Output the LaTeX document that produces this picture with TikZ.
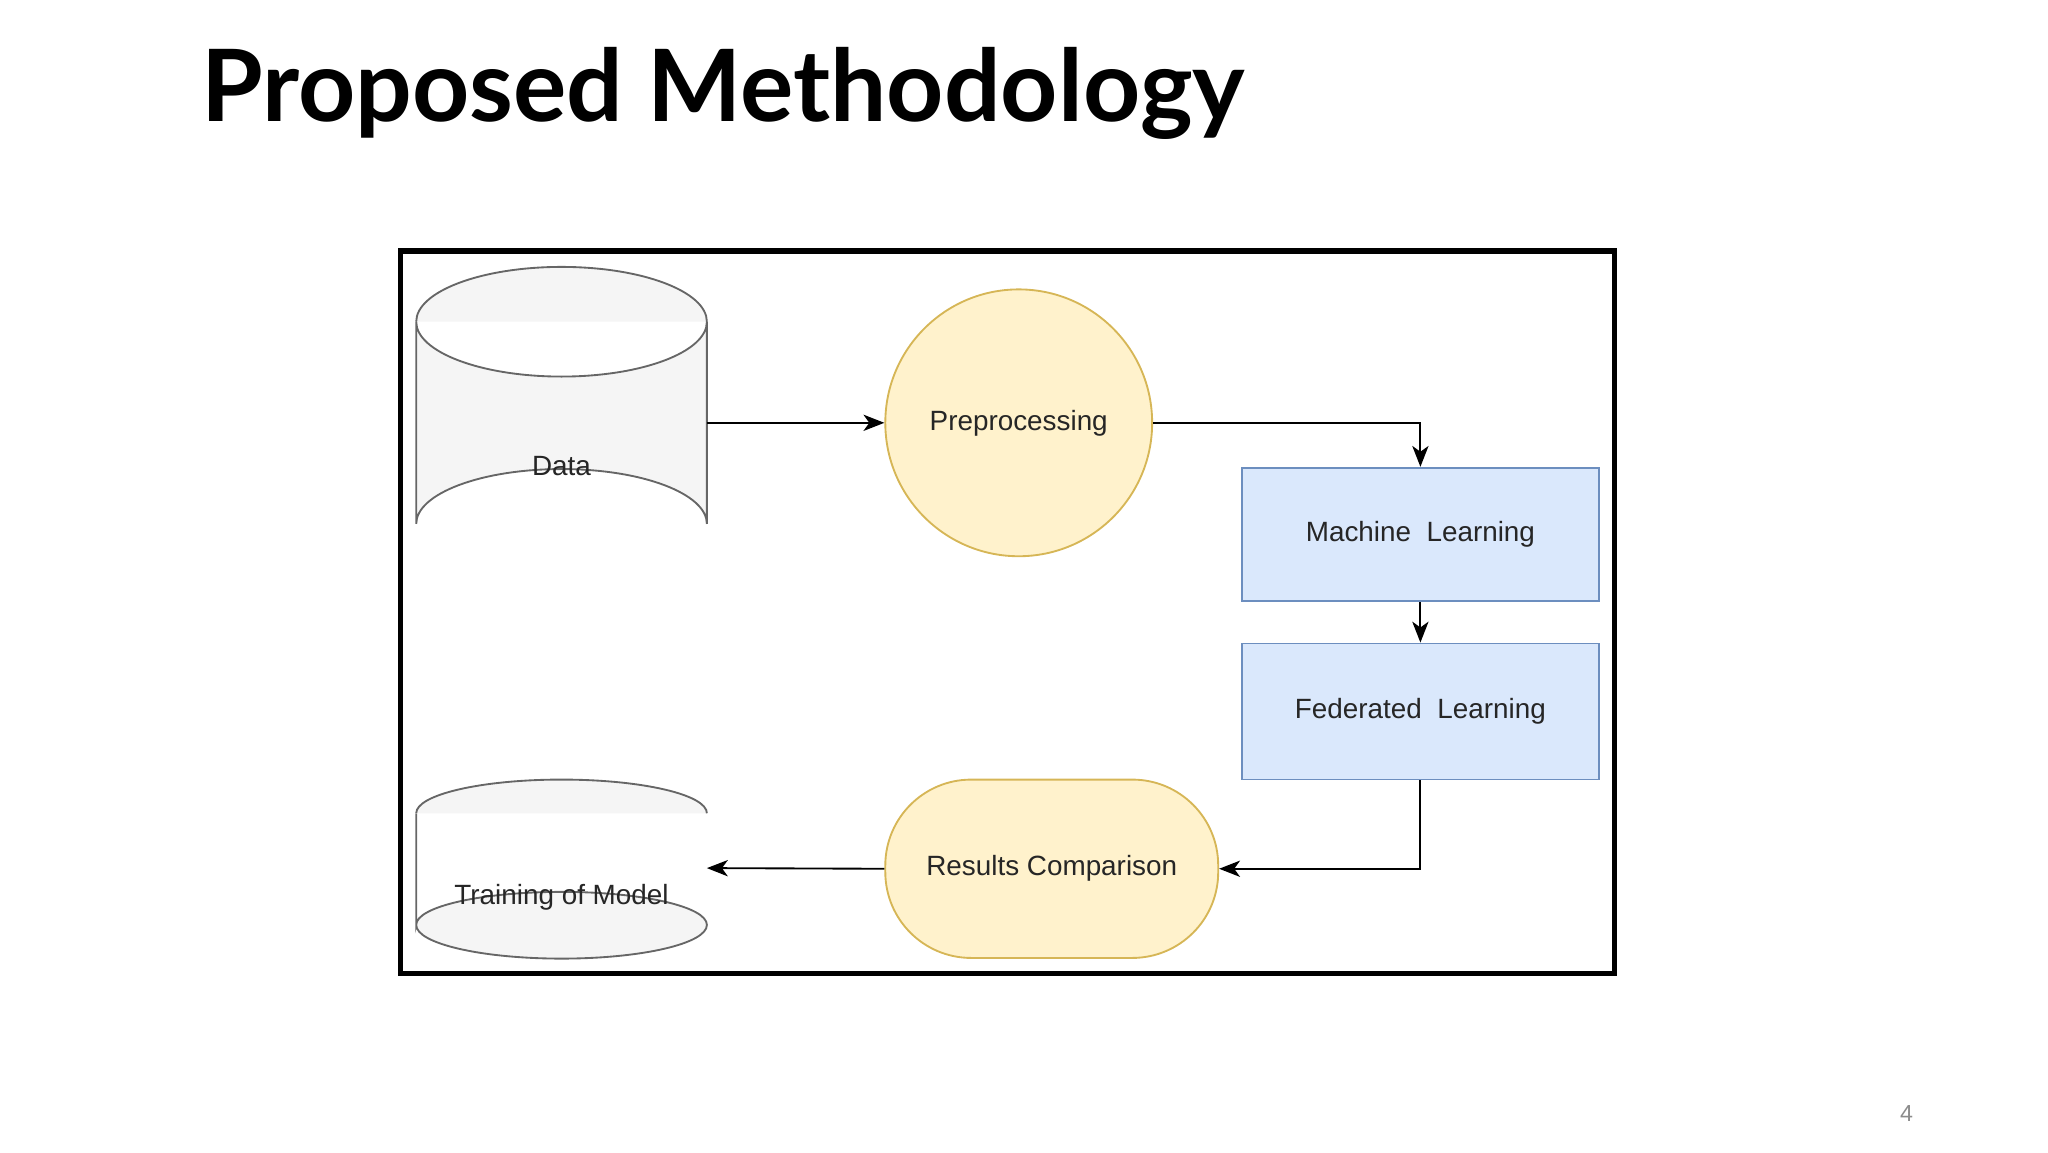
\documentclass[tikz,border=0pt]{standalone}
\usepackage{fontspec}
\setmainfont{Liberation Sans}
\newfontfamily\titlefont{Lato}
\usetikzlibrary{arrows.meta}
\definecolor{cylfill}{HTML}{F5F5F5}
\definecolor{cyldraw}{HTML}{666666}
\definecolor{yfill}{HTML}{FFF2CC}
\definecolor{ydraw}{HTML}{D6B656}
\definecolor{bfill}{HTML}{DAE8FC}
\definecolor{bdraw}{HTML}{6C8EBF}
\begin{document}
\begin{tikzpicture}[x=0.02cm,y=-0.02cm,
  lbl/.style={font=\fontsize{12}{14}\selectfont,text=black!85},
  cyl/.style={fill=cylfill,draw=cyldraw,line width=0.8pt},
  conn/.style={line width=0.8pt,-{Stealth[length=9pt,width=7pt,inset=2.5pt]}},
  blue box/.style={draw=bdraw,fill=bfill,line width=0.8pt,minimum width=5.4cm,minimum height=2.02cm,lbl}]
\useasboundingbox (0,0) rectangle (1550,872);
\node[anchor=base west,font=\titlefont\bfseries\fontsize{43}{50}\selectfont,inner sep=0] (title) at (152,92) {Proposed Methodology};
\draw[line width=2.3pt] (303,190) rectangle (1222,737);
% Data cylinder
\draw[cyl] (315,243.5) -- (315,396.5) arc[start angle=180,end angle=360,x radius=110,y radius=41.5] -- (535,243.5) arc[start angle=0,end angle=180,x radius=110,y radius=41.5] -- cycle;
\draw[cyl] (315,243.5) arc[start angle=180,end angle=360,x radius=110,y radius=41.5];
\node[lbl,minimum width=4.4cm,minimum height=2cm] (data) at (425,353) {Data};
\coordinate (dataR) at (535,320);
% Preprocessing
\node[circle,draw=ydraw,fill=yfill,line width=0.8pt,minimum size=4.04cm,lbl] (pre) at (771,320) {Preprocessing};
\node[blue box] (ml) at (1075,404.5) {Machine\ \ Learning};
\node[blue box,minimum height=2.06cm] (fl) at (1075,538.5) {Federated\ \ Learning};
\node[draw=ydraw,fill=yfill,line width=0.8pt,rounded corners=1.3cm,minimum width=5.04cm,minimum height=2.7cm,lbl] (rc) at (796,657.5) {Results Comparison};
% Training cylinder
\draw[cyl] (315,615.5) -- (315,700) arc[start angle=180,end angle=360,x radius=110,y radius=25] -- (535,700) arc[start angle=0,end angle=180,x radius=110,y radius=25.5] -- cycle;
\draw[cyl] (315,615.5) arc[start angle=180,end angle=360,x radius=110,y radius=25.5];
\node[lbl,minimum width=4.4cm] (train) at (425,679) {Training of Model};
\coordinate (trainR) at (535,657);
% connectors
\draw[conn] (dataR) -- (pre.west);
\draw[conn] (pre.east) -| (ml.north);
\draw[conn] (ml.south) -- (fl.north);
\draw[conn] (fl.south) |- (rc.east);
\draw[conn] (rc.west) -- (trainR);
\node[text=black!45,font=\fontsize{10}{12}\selectfont] (pg) at (1443,843) {4};
\end{tikzpicture}
\end{document}
